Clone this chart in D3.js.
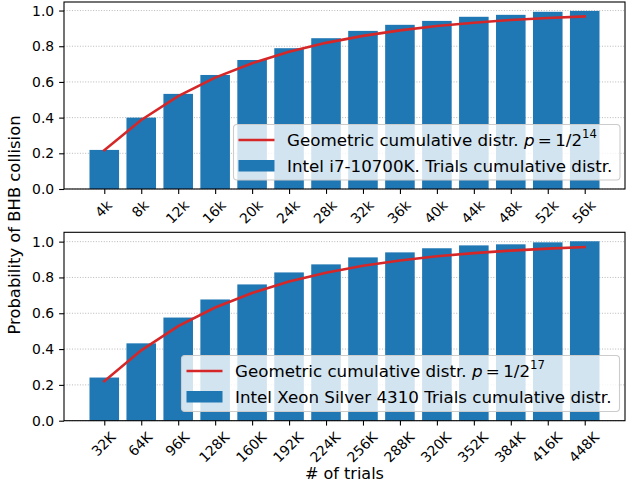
<!DOCTYPE html>
<html>
<head>
<meta charset="utf-8">
<script src="https://cdn.jsdelivr.net/npm/d3@7"></script>
<style>
html,body{margin:0;padding:0;background:#fff;}
svg{display:block;font-family:"DejaVu Sans",sans-serif;}
</style>
</head>
<body>
<svg id="chart" width="626" height="488"></svg>
<script>
// ---- data ----
const topCategories = ["4k","8k","12k","16k","20k","24k","28k","32k","36k","40k","44k","48k","52k","56k"];
const topTrials = [0.219,0.400,0.533,0.639,0.723,0.789,0.845,0.886,0.920,0.942,0.965,0.976,0.993,0.998];
const topGeometric = [0.217,0.387,0.520,0.624,0.705,0.769,0.819,0.858,0.889,0.913,0.932,0.947,0.958,0.967];
const bottomCategories = ["32K","64K","96K","128K","160K","192K","224K","256K","288K","320K","352K","384K","416K","448K"];
const bottomTrials = [0.241,0.432,0.576,0.677,0.761,0.828,0.873,0.912,0.940,0.963,0.979,0.985,0.996,1.002];
const bottomGeometric = [0.221,0.393,0.528,0.632,0.713,0.777,0.826,0.865,0.895,0.918,0.936,0.950,0.961,0.970];
const yTickValues = [0.0,0.2,0.4,0.6,0.8,1.0];
const topLegend = {line:"Geometric cumulative distr. ", exp:"14", bar:"Intel i7-10700K. Trials cumulative distr."};
const bottomLegend = {line:"Geometric cumulative distr. ", exp:"17", bar:"Intel Xeon Silver 4310 Trials cumulative distr."};

const svg = d3.select("#chart");
const BLUE = "#1f77b4", RED = "#d62728";
const tickFont = 13.9, legendFont = 16.7;

function panel(cfg){
  const g = svg.append("g");
  const n = cfg.cats.length;
  const x = d3.scaleLinear().domain([-0.4 - 0.69, n - 1 + 0.4 + 0.69]).range([cfg.left, cfg.right]);
  const ymax = d3.max(cfg.bars) * 1.05;
  const y = d3.scaleLinear().domain([0, ymax]).range([cfg.bottom, cfg.top]);
  const bw = x(0.8) - x(0);

  // grid
  g.append("g").selectAll("line").data(yTickValues).join("line")
    .attr("x1", cfg.left).attr("x2", cfg.right)
    .attr("y1", d => y(d)).attr("y2", d => y(d))
    .attr("stroke", "#b0b0b0").attr("stroke-width", 0.9)
    .attr("stroke-dasharray", "1,1.65");

  // bars
  g.append("g").selectAll("rect").data(cfg.bars).join("rect")
    .attr("x", (d,i) => x(i) - bw/2).attr("width", bw)
    .attr("y", d => y(d)).attr("height", d => y(0) - y(d))
    .attr("fill", BLUE);

  // line
  const line = d3.line().x((d,i) => x(i)).y(d => y(d)).curve(d3.curveLinear);
  g.append("path").datum(cfg.geo).attr("d", line)
    .attr("fill","none").attr("stroke", RED).attr("stroke-width", 2.6)
    .attr("stroke-linecap","square");

  // frame
  g.append("rect").attr("x", cfg.left).attr("y", cfg.top)
    .attr("width", cfg.right - cfg.left).attr("height", cfg.bottom - cfg.top)
    .attr("fill","none").attr("stroke","#000").attr("stroke-width",1.1);

  // y axis
  const yAxis = d3.axisLeft(y).tickValues(yTickValues).tickFormat(d3.format(".1f")).tickSize(4.9).tickPadding(4.9);
  const ya = g.append("g").attr("transform", `translate(${cfg.left},0)`).call(yAxis);
  ya.select(".domain").remove();
  ya.selectAll("line").attr("stroke","#000").attr("stroke-width",1.1);
  ya.selectAll("text").attr("font-size", tickFont).attr("fill","#000")
    .attr("font-family","DejaVu Sans");

  // x axis ticks
  const xa = d3.axisBottom(x).tickValues(d3.range(n)).tickFormat("").tickSize(4.9);
  const xg = g.append("g").attr("transform", `translate(0,${cfg.bottom})`).call(xa);
  xg.select(".domain").remove();
  xg.selectAll("line").attr("stroke","#000").attr("stroke-width",1.1);

  // rotated labels
  const lab = g.append("g").attr("font-size", tickFont).attr("fill","#000");
  cfg.cats.forEach((c,i) => {
    const t = lab.append("text").attr("text-anchor","middle").attr("dy","0.26em").text(c);
    const w = t.node().getComputedTextLength();
    const h = tickFont * 1.0;
    const half = (w + h) / (2 * Math.SQRT2);
    const cx = x(i), cy = cfg.bottom + 4.9 + 4.9 + half;
    t.attr("transform", `translate(${cx},${cy}) rotate(-45)`);
  });

  // legend
  const L = cfg.legend;
  const lg = g.append("g");
  lg.append("rect").attr("x", L.x).attr("y", L.y).attr("width", L.w).attr("height", L.h)
    .attr("rx", 3.5).attr("fill","#fff").attr("fill-opacity",0.8)
    .attr("stroke","#cccccc").attr("stroke-width",1.1);
  const hx = L.x + 5;
  lg.append("line").attr("x1", hx).attr("x2", hx + 36)
    .attr("y1", L.y + 15.5).attr("y2", L.y + 15.5)
    .attr("stroke", RED).attr("stroke-width", 2.6);
  lg.append("rect").attr("x", hx).attr("y", L.y + 35.5).attr("width", 36).attr("height", 11.5)
    .attr("fill", BLUE);
  const tx = hx + 48.5;
  const t1 = lg.append("text").attr("x", tx).attr("y", L.y + 15.5).attr("dy","0.36em")
    .attr("font-size", legendFont).attr("fill","#000");
  t1.append("tspan").text(cfg.legendText.line);
  t1.append("tspan").attr("font-style","italic").text("p");
  t1.append("tspan").text("\u2009=\u20091/2");
  t1.append("tspan").attr("font-size", legendFont*0.7).attr("dy","-0.7em").text(cfg.legendText.exp);
  lg.append("text").attr("x", tx).attr("y", L.y + 41).attr("dy","0.36em")
    .attr("font-size", legendFont).attr("fill","#000").text(cfg.legendText.bar);
}

panel({cats: topCategories, bars: topTrials, geo: topGeometric,
  left: 64, right: 625, top: 2, bottom: 189,
  legend: {x: 233.5, y: 124.5, w: 386.5, h: 55.5}, legendText: topLegend});
panel({cats: bottomCategories, bars: bottomTrials, geo: bottomGeometric,
  left: 64, right: 625, top: 232.3, bottom: 420.7,
  legend: {x: 181.5, y: 355.5, w: 438, h: 56}, legendText: bottomLegend});

// axis titles
svg.append("text").attr("transform","translate(20,225) rotate(-90)")
  .attr("text-anchor","middle").attr("font-size",16.4).attr("fill","#000")
  .text("Probability of BHB collision");
svg.append("text").attr("x", 344.5).attr("y", 479).attr("text-anchor","middle")
  .attr("font-size",16).attr("fill","#000").text("# of trials");
</script>
</body>
</html>
